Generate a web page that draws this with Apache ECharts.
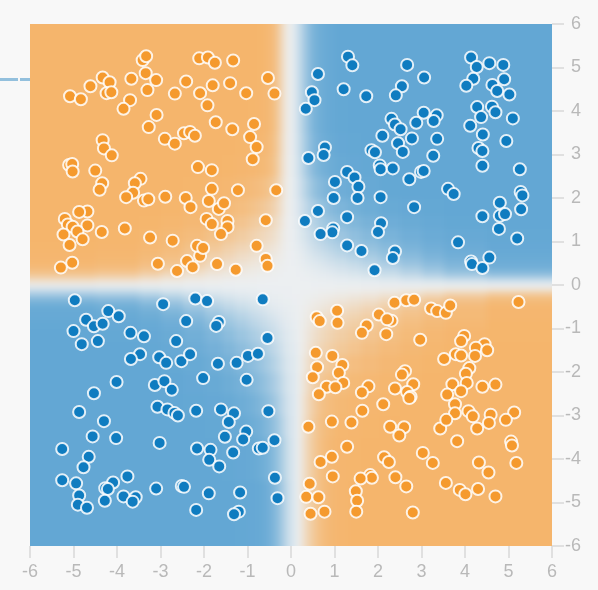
<!DOCTYPE html>
<html>
<head>
<meta charset="utf-8">
<title>XOR</title>
<script src="https://cdn.jsdelivr.net/npm/echarts@6/dist/echarts.min.js"></script>
<style>
html, body { margin: 0; padding: 0; background: #f8f8f8; }
#wrap { position: relative; width: 598px; height: 590px; overflow: hidden; }
#main { position: absolute; left: 0; top: 0; width: 598px; height: 590px; }
/* the background is blurred on its own, so the marks and axes stay sharp */
#fieldClip { position: absolute; left: 30px; top: 24px; width: 522px; height: 522px; overflow: hidden; }
#field { position: absolute; left: -43.5px; top: -43.5px; width: 609px; height: 609px; filter: blur(3px); }
</style>
</head>
<body>
<div id="wrap">
    <div id="fieldClip"><div id="field"></div></div>
    <div id="main"></div>
</div>
<script>
// tick labels on both axes
var tickValues = [-6, -5, -4, -3, -2, -1, 0, 1, 2, 3, 4, 5, 6];

// edges of the background cells, finer close to the axes
var xEdges = [-7, -4.5, -3.5, -3, -2.5, -2, -1.6, -1.3, -1, -0.8, -0.6, -0.45, -0.3, -0.2, -0.1, 0,
    0.1, 0.2, 0.3, 0.45, 0.6, 0.8, 1, 1.3, 1.6, 2, 2.5, 3, 3.5, 4.5, 7];
var yEdges = [7, 4.5, 3.5, 3, 2.5, 2, 1.6, 1.3, 1, 0.8, 0.6, 0.45, 0.3, 0.2, 0.1, 0,
    -0.1, -0.2, -0.3, -0.45, -0.6, -0.8, -1, -1.3, -1.6, -2, -2.5, -3, -3.5, -4.5, -7];

// background values: -100 orange, 0 pale, 100 blue
var fieldTopLeft = [
    [-100,-100,-100,-100,-100,-100,-100,-100,-100,-99,-95,-82,-48,-18,-4],
    [-100,-100,-100,-100,-100,-100,-100,-100,-99,-98,-94,-80,-46,-17,-4],
    [-100,-100,-100,-100,-100,-100,-100,-99,-98,-96,-91,-76,-43,-16,-3],
    [-100,-100,-100,-100,-100,-100,-99,-98,-96,-93,-88,-72,-40,-14,-3],
    [-100,-100,-100,-100,-99,-98,-96,-93,-89,-84,-76,-60,-34,-11,-2],
    [-100,-100,-100,-99,-97,-94,-90,-85,-78,-70,-60,-46,-28,-9,-2],
    [-100,-100,-99,-97,-94,-89,-82,-74,-64,-55,-46,-35,-20,-7,-1],
    [-100,-99,-97,-93,-88,-80,-70,-60,-50,-42,-34,-26,-14,-5,-1],
    [-99,-98,-95,-90,-80,-68,-56,-46,-38,-30,-24,-18,-10,-4,-1],
    [-98,-96,-92,-84,-70,-55,-44,-34,-27,-21,-16,-12,-6,-3,0],
    [-96,-93,-86,-75,-58,-42,-32,-24,-18,-14,-10,-7,-4,-2,0],
    [-88,-84,-74,-60,-42,-29,-21,-15,-11,-8,-6,-4,-2,-1,0],
    [-70,-64,-52,-38,-25,-16,-12,-8,-6,-4,-3,-2,-1,0,0],
    [-42,-36,-27,-18,-12,-8,-5,-4,-3,-2,-1,-1,0,0,0],
    [-12,-10,-7,-5,-3,-2,-1,-1,-1,0,0,0,0,0,0]
];
var fieldTopRight = [
    [8,22,42,65,85,93,97,100,100,100,100,100,100,100,100],
    [8,21,40,63,84,92,97,99,100,100,100,100,100,100,100],
    [8,20,38,60,80,90,95,98,99,100,100,100,100,100,100],
    [7,18,34,55,75,86,92,96,98,99,100,100,100,100,100],
    [6,15,28,46,64,76,85,91,95,97,99,100,100,100,100],
    [5,12,22,36,50,63,73,81,88,92,96,98,99,100,100],
    [4,9,17,28,40,51,61,70,78,85,91,95,97,99,100],
    [3,7,13,21,31,40,49,58,67,75,84,90,94,97,99],
    [2,5,9,15,23,30,38,46,55,64,74,83,90,94,98],
    [1,3,6,10,16,21,28,35,43,52,63,74,83,90,96],
    [1,2,4,7,10,14,19,24,31,39,50,62,73,82,93],
    [0,1,2,4,6,9,12,16,21,27,36,47,60,72,86],
    [0,1,1,2,4,5,7,10,13,17,24,33,44,54,66],
    [0,0,1,1,2,3,4,5,7,9,13,18,24,30,36],
    [0,0,0,0,1,1,1,2,2,3,4,5,6,7,8]
];
var fieldBottomLeft = [
    [12,11,9,7,5,4,3,2,2,1,1,1,1,1,1],
    [36,33,27,20,14,10,7,5,4,3,2,1,1,1,1],
    [62,58,49,38,27,20,14,10,7,5,4,3,2,1,1],
    [85,80,70,57,43,32,24,17,13,9,6,4,3,2,2],
    [96,92,85,74,60,46,35,27,20,15,10,7,5,4,3],
    [97,96,92,85,74,60,48,38,29,23,17,12,8,6,4],
    [99,98,96,91,83,71,59,48,38,31,24,18,12,8,6],
    [100,99,98,95,89,80,70,59,49,40,32,24,17,11,7],
    [100,100,99,97,93,87,79,69,59,50,40,31,22,14,9],
    [100,100,100,99,96,92,86,78,69,60,49,38,27,17,11],
    [100,100,100,100,98,96,92,86,78,69,58,46,33,21,13],
    [100,100,100,100,99,98,96,92,86,78,67,54,39,25,15],
    [100,100,100,100,100,99,98,96,92,86,75,62,45,29,17],
    [100,100,100,100,100,100,99,98,96,92,84,70,52,34,20],
    [100,100,100,100,100,100,100,99,98,96,90,76,58,38,22]
];
var fieldBottomRight = [
    [0,0,0,0,0,-1,-1,-2,-2,-3,-4,-5,-6,-7,-8],
    [0,0,-1,-1,-2,-3,-4,-5,-7,-9,-13,-18,-26,-35,-45],
    [0,-1,-1,-2,-4,-6,-8,-11,-15,-19,-26,-36,-50,-65,-78],
    [1,0,-2,-4,-7,-10,-14,-19,-25,-31,-42,-55,-70,-82,-92],
    [2,0,-3,-6,-11,-16,-22,-29,-36,-44,-57,-70,-82,-91,-98],
    [3,0,-4,-9,-16,-24,-31,-39,-47,-56,-67,-78,-86,-92,-98],
    [4,1,-5,-12,-21,-31,-40,-48,-57,-66,-76,-85,-91,-95,-99],
    [6,1,-6,-15,-27,-38,-48,-57,-66,-74,-83,-90,-95,-98,-99],
    [8,2,-7,-19,-33,-46,-56,-66,-74,-82,-89,-94,-97,-99,-100],
    [10,2,-10,-26,-44,-58,-68,-77,-84,-89,-94,-97,-99,-100,-100],
    [12,2,-14,-34,-55,-70,-80,-87,-92,-95,-97,-99,-100,-100,-100],
    [12,2,-17,-40,-62,-79,-88,-93,-96,-98,-99,-100,-100,-100,-100],
    [12,2,-19,-43,-66,-83,-92,-97,-98,-99,-100,-100,-100,-100,-100],
    [12,2,-20,-45,-68,-85,-94,-98,-99,-100,-100,-100,-100,-100,-100],
    [12,2,-20,-45,-68,-85,-94,-98,-100,-100,-100,-100,-100,-100,-100]
];

var orangePoints = [
    [-5.08,4.34],[-4.83,4.27],[-4.61,4.57],[-4.33,4.77],[-4.17,4.66],[-4.24,4.41],[-4.13,4.43],[-3.67,4.74],[-3.70,4.25],[-3.85,4.05],
    [-3.41,5.17],[-3.33,5.26],[-3.34,4.87],[-3.10,4.71],[-3.30,4.48],[-3.09,3.91],[-3.27,3.63],[-2.90,3.36],[-4.33,3.33],[-4.30,3.14],
    [-4.12,2.98],[-2.11,5.21],[-1.91,5.23],[-1.75,5.11],[-1.33,5.16],[-0.53,4.76],[-0.38,4.40],[-1.03,4.41],[-1.40,4.64],[-1.80,4.59],
    [-2.09,4.41],[-2.41,4.68],[-2.67,4.40],[-1.92,4.13],[-1.73,3.74],[-1.35,3.58],[-0.85,3.70],[-0.94,3.40],[-0.79,3.17],[-2.67,3.25],
    [-2.46,3.49],[-2.32,3.52],[-2.21,3.43],[-5.10,2.76],[-5.03,2.78],[-5.02,2.61],[-4.50,2.63],[-4.34,2.34],[-4.40,2.19],[-3.46,2.44],
    [-3.59,2.34],[-3.63,2.12],[-3.79,2.02],[-3.38,1.94],[-3.28,1.97],[-2.89,2.03],[-2.42,2.00],[-2.31,1.79],[-2.14,2.71],[-1.82,2.64],
    [-1.82,2.21],[-1.89,1.93],[-1.66,1.75],[-1.54,1.88],[-1.22,2.18],[-0.34,2.18],[-0.88,2.89],[-1.94,1.52],[-1.82,1.40],[-1.46,1.47],
    [-1.46,1.33],[-1.61,1.17],[-0.58,1.49],[-0.79,0.90],[-0.58,0.60],[-0.54,0.44],[-1.27,0.35],[-1.70,0.48],[-2.62,0.32],[-2.39,0.55],
    [-2.26,0.41],[-2.09,0.67],[-2.16,0.90],[-2.02,0.85],[-3.06,0.49],[-2.72,1.02],[-3.24,1.09],[-3.82,1.30],[-4.35,1.22],[-4.68,1.69],
    [-4.87,1.68],[-5.20,1.52],[-5.13,1.39],[-5.02,1.34],[-4.68,1.37],[-4.91,1.23],[-5.23,1.16],[-4.79,1.05],[-5.09,0.92],[-5.03,0.51],
    [-5.29,0.40],
    [2.38,-0.41],[2.65,-0.35],[2.83,-0.34],[5.23,-0.39],[3.22,-0.54],[3.36,-0.60],[3.56,-0.64],[3.66,-0.47],[1.06,-0.59],[0.59,-0.74],
    [0.66,-0.83],[1.07,-0.87],[2.02,-0.68],[2.31,-0.82],[2.21,-0.79],[1.74,-0.93],[1.63,-1.10],[2.19,-1.13],[2.97,-1.26],[3.98,-1.17],
    [3.91,-1.29],[4.45,-1.36],[4.25,-1.44],[4.51,-1.50],[0.57,-1.56],[0.95,-1.63],[3.79,-1.59],[3.91,-1.62],[4.23,-1.63],[3.52,-1.70],
    [1.18,-1.84],[0.60,-1.89],[1.10,-2.02],[4.10,-1.91],[4.02,-2.04],[2.62,-1.98],[2.55,-2.06],[0.50,-2.12],[1.20,-2.25],[2.81,-2.28],
    [4.04,-2.25],[3.71,-2.28],[4.40,-2.34],[4.70,-2.29],[0.82,-2.34],[1.02,-2.35],[1.78,-2.33],[2.39,-2.38],[1.63,-2.47],[2.67,-2.46],
    [3.91,-2.44],[0.64,-2.51],[3.59,-2.52],[2.75,-2.57],[2.72,-2.60],[2.12,-2.74],[3.77,-2.74],[1.64,-2.89],[3.77,-2.95],[4.08,-2.90],
    [4.59,-2.98],[5.13,-2.93],[4.18,-3.02],[0.40,-3.26],[0.94,-3.14],[1.39,-3.16],[2.28,-3.26],[2.60,-3.27],[2.49,-3.46],[3.43,-3.30],
    [3.57,-3.10],[4.28,-3.30],[4.55,-3.17],[4.94,-3.10],[3.82,-3.59],[5.06,-3.60],[5.08,-3.69],[1.29,-3.72],[0.94,-3.95],[0.68,-4.07],
    [2.14,-3.96],[2.25,-4.07],[3.03,-3.86],[3.26,-4.09],[4.32,-4.08],[5.18,-4.09],[4.54,-4.31],[0.96,-4.40],[1.82,-4.37],[1.86,-4.43],
    [1.60,-4.45],[2.40,-4.42],[2.65,-4.63],[0.43,-4.57],[1.49,-4.74],[3.56,-4.55],[3.88,-4.71],[4.01,-4.81],[4.30,-4.69],[4.70,-4.86],
    [0.35,-4.87],[0.63,-4.88],[1.52,-4.96],[0.45,-5.26],[0.77,-5.21],[1.50,-5.21],[2.80,-5.23]
];

var bluePoints = [
    [1.31,5.25],[1.41,5.05],[2.67,5.06],[3.06,4.77],[0.62,4.85],[0.48,4.43],[0.54,4.25],[0.34,4.05],[1.21,4.50],[1.73,4.34],
    [2.55,4.57],[2.41,4.36],[4.14,5.23],[4.27,5.01],[4.56,5.10],[4.88,5.06],[4.19,4.74],[4.03,4.58],[4.90,4.73],[4.63,4.60],
    [4.74,4.46],[5.02,4.38],[4.28,4.09],[4.62,4.10],[4.70,3.97],[4.37,3.86],[5.10,3.83],[4.12,3.66],[4.41,3.46],[4.95,3.31],
    [4.31,3.15],[4.40,3.08],[3.05,3.96],[3.35,3.90],[3.28,3.77],[2.88,3.73],[2.31,3.82],[2.39,3.69],[2.52,3.58],[2.10,3.43],
    [2.78,3.37],[3.36,3.36],[2.46,3.26],[1.85,3.10],[1.93,3.05],[2.57,3.06],[3.27,2.97],[0.78,3.16],[0.75,2.99],[0.40,2.92],
    [4.40,2.74],[5.26,2.66],[2.04,2.75],[2.06,2.66],[2.34,2.68],[1.29,2.60],[1.46,2.47],[1.01,2.37],[1.55,2.26],[2.72,2.43],
    [2.99,2.60],[3.05,2.62],[3.61,2.21],[3.74,2.09],[5.28,2.14],[5.32,2.06],[0.98,2.00],[1.53,2.00],[2.06,2.02],[2.83,1.79],
    [4.80,1.89],[5.29,1.74],[4.40,1.58],[4.80,1.59],[4.92,1.63],[0.62,1.70],[0.32,1.47],[1.29,1.56],[2.07,1.42],[2.00,1.22],
    [4.78,1.29],[5.20,1.07],[3.84,0.98],[0.97,1.30],[0.95,1.21],[0.68,1.17],[1.29,0.91],[1.62,0.78],[2.39,0.77],[2.34,0.62],
    [4.14,0.54],[4.16,0.48],[4.56,0.63],[4.40,0.39],[1.92,0.34],
    [-4.97,-0.35],[-2.94,-0.44],[-2.20,-0.31],[-1.93,-0.37],[-0.65,-0.33],[-4.20,-0.60],[-3.96,-0.72],[-4.71,-0.80],[-4.53,-0.95],[-4.33,-0.89],
    [-5.00,-1.06],[-2.41,-0.83],[-1.66,-0.85],[-1.72,-0.94],[-3.69,-1.10],[-3.38,-1.18],[-4.81,-1.36],[-4.44,-1.29],[-2.64,-1.29],[-0.54,-1.22],
    [-3.47,-1.59],[-3.68,-1.70],[-3.03,-1.66],[-2.87,-1.79],[-2.52,-1.75],[-2.32,-1.59],[-1.68,-1.81],[-1.25,-1.79],[-0.99,-1.63],[-0.76,-1.58],
    [-2.02,-2.14],[-1.02,-2.18],[-4.01,-2.23],[-3.13,-2.30],[-2.91,-2.21],[-2.74,-2.41],[-4.53,-2.49],[-3.07,-2.80],[-2.84,-2.86],[-2.68,-2.94],
    [-2.60,-3.00],[-4.87,-2.92],[-2.18,-2.89],[-1.61,-2.86],[-1.31,-2.95],[-0.52,-2.90],[-4.30,-3.13],[-1.43,-3.15],[-4.56,-3.48],[-4.02,-3.52],
    [-1.03,-3.37],[-1.52,-3.49],[-1.10,-3.55],[-0.38,-3.57],[-3.02,-3.63],[-5.26,-3.77],[-2.16,-3.76],[-1.85,-3.79],[-1.33,-3.85],[-0.74,-3.76],
    [-0.65,-3.74],[-4.65,-3.95],[-1.88,-4.02],[-4.77,-4.19],[-1.65,-4.17],[-3.76,-4.40],[-5.26,-4.49],[-4.94,-4.56],[-0.37,-4.43],[-4.09,-4.54],
    [-4.27,-4.67],[-4.21,-4.69],[-3.10,-4.68],[-2.51,-4.62],[-2.46,-4.64],[-1.89,-4.79],[-1.17,-4.77],[-4.87,-4.84],[-3.85,-4.86],[-3.57,-4.88],
    [-3.64,-4.98],[-0.31,-4.90],[-4.28,-4.96],[-4.90,-5.05],[-4.69,-5.12],[-2.18,-5.17],[-1.20,-5.21],[-1.31,-5.27]
];

// cells of the background: x0, x1, y0, y1, value
var fieldCells = [];
fieldTopLeft.map(function (r, i) { return r.concat(fieldTopRight[i]); })
    .concat(fieldBottomLeft.map(function (r, i) { return r.concat(fieldBottomRight[i]); }))
    .forEach(function (row, j) {
        row.forEach(function (v, i) {
            fieldCells.push([xEdges[i], xEdges[i + 1], yEdges[j], yEdges[j + 1], v]);
        });
    });

function renderCell(params, api) {
    var a = api.coord([api.value(0), api.value(2)]);
    var b = api.coord([api.value(1), api.value(3)]);
    var x = Math.round(a[0]), y = Math.round(a[1]);
    return {
        type: 'rect',
        shape: { x: x, y: y, width: Math.round(b[0]) - x, height: Math.round(b[1]) - y },
        style: { fill: api.visual('color') }
    };
}

// background chart, one unit wider than the plot on every side so the blur has no edge
var fieldChart = echarts.init(document.getElementById('field'));
fieldChart.setOption({
    animation: false,
    grid: { left: 0, top: 0, right: 0, bottom: 0 },
    xAxis: { type: 'value', min: -7, max: 7, show: false },
    yAxis: { type: 'value', min: -7, max: 7, show: false },
    visualMap: {
        show: false, type: 'continuous', seriesIndex: 0, dimension: 4, min: -100, max: 100,
        inRange: { color: ['#f5b56c', '#eceff1', '#63a7d4'] }
    },
    series: [{
        type: 'custom',
        data: fieldCells,
        renderItem: renderCell,
        encode: { x: [0, 1], y: [2, 3] },
        silent: true
    }]
});

var myChart = echarts.init(document.getElementById('main'));

var axisText = { color: '#b9b9b9', fontSize: 18, fontFamily: 'Liberation Sans' };
var axisTicks = { length: 12, lineStyle: { color: '#d8d8d8', width: 1.5 } };

var option = {
    backgroundColor: 'transparent',
    animation: false,
    grid: { left: 30, top: 24, width: 522, height: 522 },
    xAxis: {
        type: 'value', min: tickValues[0], max: tickValues[12], interval: 1,
        axisLine: { show: false, onZero: false },
        axisTick: axisTicks,
        axisLabel: Object.assign({ margin: 17 }, axisText),
        splitLine: { show: false }
    },
    yAxis: {
        type: 'value', min: tickValues[0], max: tickValues[12], interval: 1, position: 'right',
        axisLine: { show: false, onZero: false },
        axisTick: axisTicks,
        axisLabel: Object.assign({ margin: 29, align: 'right' }, axisText),
        splitLine: { show: false }
    },
    // link stub coming in from the network on the left
    graphic: [
        { type: 'rect', shape: { x: 0, y: 78, width: 18, height: 3 }, style: { fill: '#93c0dd' } },
        { type: 'rect', shape: { x: 20, y: 78, width: 10, height: 3 }, style: { fill: '#93c0dd' } }
    ],
    series: [
        {
            type: 'scatter', data: bluePoints, symbolSize: 12,
            itemStyle: { color: '#0f7cc0', borderColor: 'rgba(255,255,255,0.85)', borderWidth: 2, opacity: 1 }
        },
        {
            type: 'scatter', data: orangePoints, symbolSize: 12,
            itemStyle: { color: '#f59a2e', borderColor: 'rgba(255,255,255,0.85)', borderWidth: 2, opacity: 1 }
        }
    ]
};
myChart.setOption(option);
</script>
</body>
</html>
